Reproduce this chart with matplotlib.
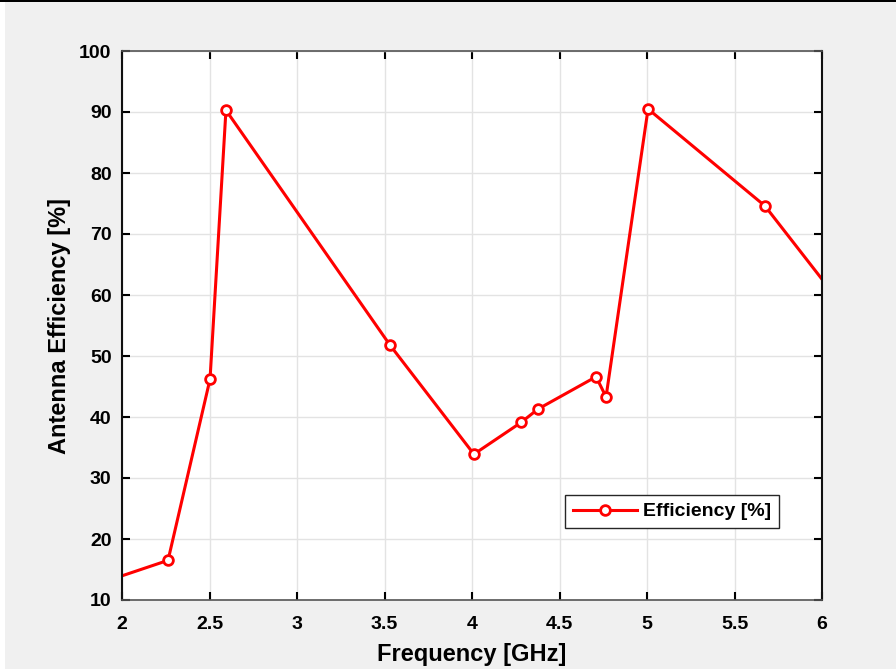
import matplotlib.pyplot as plt
import matplotlib.patches as mpatches

# Data (first and last points lie outside the x range)
freq = [1.9, 2.263, 2.503, 2.594, 3.531, 4.011, 4.28, 4.377, 4.709, 4.766, 5.006, 5.674, 6.1]
eff = [13.0, 16.5, 46.2, 90.3, 51.8, 33.9, 39.1, 41.3, 46.6, 43.3, 90.5, 74.6, 58.9]

xticks = [2, 2.5, 3, 3.5, 4, 4.5, 5, 5.5, 6]
xtick_labels = ['2', '2.5', '3', '3.5', '4', '4.5', '5', '5.5', '6']
yticks = [10, 20, 30, 40, 50, 60, 70, 80, 90, 100]

plt.rcParams['font.family'] = ['Liberation Sans', 'DejaVu Sans']
plt.rcParams['font.weight'] = 'bold'

fig = plt.figure(figsize=(8.96, 6.69), dpi=100, facecolor='#f0f0f0')
ax = fig.add_axes([122 / 896, 1 - 600 / 669, 700 / 896, 549 / 669])

# thin black line along the top and white strip on the left edge, as in the screenshot
fig.patches.append(mpatches.Rectangle((0, 1 - 2 / 669), 1, 2 / 669, transform=fig.transFigure,
                                      facecolor='black', edgecolor='none'))
fig.patches.append(mpatches.Rectangle((0, 0), 5 / 896, 1 - 2 / 669, transform=fig.transFigure,
                                      facecolor='white', edgecolor='none'))

ax.plot(freq, eff, color='red', linewidth=2.2, marker='o', markersize=7,
        markerfacecolor='white', markeredgecolor='red', markeredgewidth=2.0,
        label='Efficiency [%]', clip_on=True)

ax.set_xlim(2, 6)
ax.set_ylim(10, 100)
ax.set_xticks(xticks)
ax.set_xticklabels(xtick_labels)
ax.set_yticks(yticks)
ax.grid(True, color='#e3e3e3', linewidth=1.0)
ax.set_axisbelow(True)

ax.tick_params(direction='in', length=5.5, width=1.5, top=True, right=True,
               labelsize=14, colors='black')
ax.tick_params(axis='x', pad=11.5)
ax.tick_params(axis='y', pad=7.5)
for lbl in ax.get_xticklabels() + ax.get_yticklabels():
    lbl.set_fontweight('bold')
for side in ['left', 'right']:
    ax.spines[side].set_linewidth(1.5)
    ax.spines[side].set_color('#111111')
for side in ['top', 'bottom']:
    ax.spines[side].set_linewidth(1.2)
    ax.spines[side].set_color('#555555')

ax.set_xlabel('Frequency [GHz]', fontsize=17, fontweight='bold', labelpad=7)
ax.set_ylabel('Antenna Efficiency [%]', fontsize=17, fontweight='bold', labelpad=6)

leg = ax.legend(loc='center', bbox_to_anchor=(672 / 896, 1 - 511.5 / 669),
                bbox_transform=fig.transFigure, fancybox=False, framealpha=1,
                edgecolor='#262626', prop={'weight': 'bold', 'size': 14},
                handlelength=3.3, borderpad=0.4, handletextpad=0.3, borderaxespad=0)
leg.get_frame().set_linewidth(1.0)

fig.savefig('out.png', dpi=100, facecolor=fig.get_facecolor())
